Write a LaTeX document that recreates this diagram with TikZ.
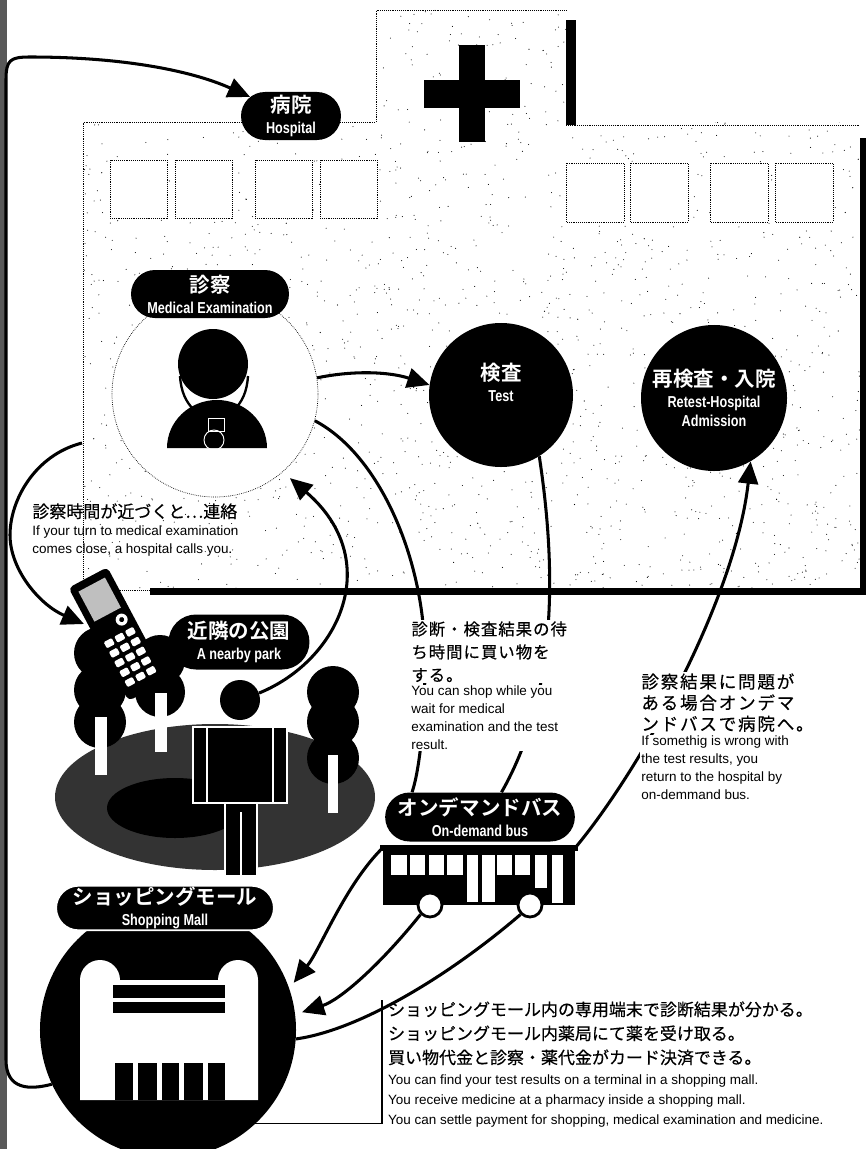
\documentclass[tikz,border=0pt]{standalone}
\usepackage{fontspec}
\setmainfont{Liberation Sans}
\newfontfamily\jp{Noto Sans CJK JP}[BoldFont={Noto Sans CJK JP Bold}]
\newfontfamily\cond{Liberation Sans}[FakeStretch=0.8]
\usetikzlibrary{positioning,shapes.misc,arrows.meta}

\newcommand{\jplabel}[1]{{\jp\bfseries\fontsize{17.5}{19}\selectfont #1}}
\newcommand{\enlabel}[1]{{\cond\bfseries\fontsize{13.5}{15}\selectfont #1}}

\tikzset{
  pill/.style={rounded rectangle, fill=black, text=white, align=center,
    inner xsep=3pt, inner ysep=1pt, font=\fontsize{13.5}{15}\selectfont},
  spot/.style={circle, fill=black, text=white, align=center, inner sep=0pt,
    font=\fontsize{13.5}{15}\selectfont},
  conn/.style={line width=2.6pt, -{Triangle[length=19pt,width=17pt]}},
  link/.style={line width=2.6pt},
  wall/.style={densely dotted, line width=0.6pt},
  jpnote/.style={anchor=north west, inner sep=1pt, align=left,
    font=\jp\fontsize{14.5}{20.5}\selectfont\addfontfeature{FakeBold=0.4}},
  ennote/.style={anchor=north west, inner sep=1pt, align=left,
    font=\fontsize{11.5}{15.4}\selectfont},
}

\begin{document}
\begin{tikzpicture}[x=0.03cm, y=-0.03cm]
\useasboundingbox (0,0) rectangle (866,1149);

% dark edge on the left
\fill[black!65] (0,0) rectangle (7,1149);

% screen tone of the hospital
\begin{scope}
\clip (83,122) rectangle (860,590) (376,10) rectangle (566,122);
\pgfmathsetseed{4}
\foreach \i in {1,...,2000}{
  \pgfmathsetmacro\sx{83+777*rnd}
  \pgfmathsetmacro\sy{10+580*rnd}
  \fill (\sx,\sy) circle (0.45pt);
}
\end{scope}

% hospital building
\draw[wall] (83,590) -- (83,122) -- (376,122) -- (376,10) -- (566,10);
\draw[wall] (566,125) -- (860,125);
\draw[wall] (83,590) -- (150,590);
\fill (566,20) rectangle (576,125);
\fill (860,138) rectangle (866,595);
\fill (150,588) rectangle (866,595);
\fill (459,45) rectangle (485,142);
\fill (424,80) rectangle (520,108);
\foreach \wx in {110,175,255,320}
  \draw[wall, fill=white] (\wx,160) rectangle +(57,58);
\foreach \wx in {566,630,710,775}
  \draw[wall, fill=white] (\wx,163) rectangle +(58,59);

\node[pill, minimum width=3.21cm, minimum height=1.44cm] (hospital) at (291,116)
  {\jplabel{病院}\\[3pt]\enlabel{Hospital}};

% examination room with the doctor
\node[circle, draw, wall, fill=white, minimum size=6.18cm] (exam) at (215,394) {};
\fill (213,364) circle (35);
\draw[line width=2pt] (180,376) .. controls (181,392) and (186,402) .. (194,410);
\draw[line width=2pt] (248,376) .. controls (247,392) and (242,402) .. (234,410);
\fill (167,448) arc[start angle=180, end angle=360, x radius=50, y radius=48] -- cycle;
\draw[white, line width=0.8pt] (208,418) rectangle (224,431);
\draw[white, line width=0.8pt] (214,440) circle (10);
\node[pill, minimum width=4.95cm, minimum height=1.44cm] (examlabel) at (210,294)
  {\jplabel{診察}\\[3pt]\enlabel{Medical Examination}};

\node[spot, minimum size=4.32cm] (test) at (501,395)
  {\jplabel{検査}\\[3pt]\enlabel{Test}\\[6pt]};
\node[spot, minimum size=4.38cm] (retest) at (714,398)
  {\jplabel{再検査・入院}\\[3pt]\enlabel{Retest-Hospital}\\[1pt]\enlabel{Admission}};

% park
\fill[black!80] (215,797) ellipse [x radius=160, y radius=73];
\fill (175,808) ellipse [x radius=68, y radius=30];
\foreach \ty in {653,690,722} \fill (100,\ty) circle (26);
\fill[white] (95,717) rectangle (107,775);
\foreach \ty in {660,692} \fill (160,\ty) circle (25);
\fill[white] (155,693) rectangle (167,752);
\foreach \ty in {692,722,758} \fill (333,\ty) circle (26);
\fill[white] (328,755) rectangle (338,813);
\node[pill, minimum width=4.44cm, minimum height=1.65cm] (park) at (239,642)
  {\jplabel{近隣の公園}\\[3pt]\enlabel{A nearby park}};
\node[circle, fill=black, minimum size=1.2cm, inner sep=0pt] (head) at (240,700) {};
\filldraw[draw=white, line width=1pt] (193,727) rectangle (287,803);
\draw[white, line width=1pt] (207,727) -- (207,803) (273,727) -- (273,803);
\filldraw[draw=white, line width=1pt] (225,803) rectangle (257,876);
\draw[white, line width=1pt] (241,812) -- (241,876);

% mobile phone
\begin{scope}[shift={(118,634)}, rotate=28]
\fill[rounded corners=4] (-22,-64) rectangle (22,64);
\fill[black!25] (-15,-56) rectangle (15,-22);
\fill[white] (10,-11) circle (6);
\fill (10,-11) circle (2.5);
\foreach \c in {-12,0,12}
  \foreach \r in {4,15,26,37,48}
    \fill[white, rounded corners=1] (\c-4.5,\r-3.5) rectangle +(9,7);
\end{scope}

% on-demand bus
\fill (380,845) rectangle (578,851);
\node[fill=black, minimum width=5.76cm, minimum height=1.71cm, inner sep=0pt] (bus) at (479,876.5) {};
\foreach \a/\b in {391/407,410/425,429/444,447/463,497/512,515/530}
  \fill[white] (\a,855) rectangle (\b,875);
\fill[white] (467,855) rectangle (478,902);
\fill[white] (482,855) rectangle (495,902);
\fill[white] (535,855) rectangle (547,888);
\fill[white] (552,855) rectangle (563,903);
\node[circle, draw, line width=2.4pt, fill=white, minimum size=0.72cm] (wheelL) at (430,905) {};
\node[circle, draw, line width=2.4pt, fill=white, minimum size=0.72cm] (wheelR) at (530,905) {};
\node[pill, inner xsep=-2pt, minimum width=5.55cm, minimum height=1.47cm] (buslabel) at (480,817)
  {\jplabel{オンデマンドバス}\\[3pt]\enlabel{On-demand bus}};

% shopping mall
\node[circle, fill=black, minimum size=7.68cm] (mall) at (168,1030) {};
\fill[white] (80,1100) -- (80,980) arc[start angle=180, end angle=360, radius=20]
  -- (218,980) arc[start angle=180, end angle=360, radius=20] -- (258,1100) -- cycle;
\fill (113,985) rectangle (225,998);
\fill (113,1002) rectangle (225,1013);
\fill (115,1063) rectangle (225,1100);
\foreach \gx in {133,157,179,203}
  \fill[white] (\gx,1063) rectangle +(5,37);
\node[pill, inner xsep=-5pt, draw=white, line width=1.5pt, minimum width=6.18cm, minimum height=1.29cm] (malllabel) at (165,908)
  {\jplabel{ショッピングモール}\\[3pt]\enlabel{Shopping Mall}};

% connectors
\draw[conn] (mall.205) .. controls (30,1090) and (6,1090) .. (6,1060) -- (6,80)
  .. controls (6,60) and (10,57) .. (30,57) .. controls (120,57) and (190,70) .. (hospital.155);
\coordinate (wallpt) at (82,443);
\coordinate (ring) at (84,624);
\draw[conn] (wallpt) .. controls (35,455) and (10,500) .. (10,535)
  .. controls (10,570) and (40,605) .. (ring);
\draw[conn] (exam.9) .. controls (355,370) and (390,372) .. (test.172);
\draw[link] (exam.-15) .. controls (380,455) and (425,560) .. (425,660)
  .. controls (425,730) and (418,775) .. (buslabel.160);
\draw[link] (test.-58) .. controls (555,560) and (560,690) .. (buslabel.49);
\draw[conn] (bus.north east) .. controls (640,770) and (735,600) .. (retest.-60);
\draw[conn, shorten >=8pt] (head.20) .. controls (340,660) and (385,560) .. (exam.-49);
\draw[conn, shorten >=6pt] (bus.north west) .. controls (345,885) and (320,950) .. (mall.19);
\draw[conn, shorten >=6pt] (wheelL.south west) .. controls (380,965) and (340,1000) .. (mall.7);
\draw[link] (wheelR.south west) .. controls (450,975) and (360,1030) .. (mall.-4);

% notes
\node[jpnote, font=\jp\fontsize{14.5}{18}\selectfont\addfontfeature{FakeBold=0.4}] (calljp) at (31,502)
  {診察時間が近づくと…連絡};
\node[ennote, below=3pt of calljp.south west, anchor=north west] (callen)
  {If your turn to medical examination\\comes close, a hospital calls you.};

\node[jpnote, fill=white, font=\jp\fontsize{14}{19.6}\selectfont\addfontfeature{LetterSpace=6,FakeBold=0.4}] (shopjp) at (410,620)
  {診断・検査結果の待\\ち時間に買い物を\\する。};
\node[ennote, fill=white, below=1pt of shopjp.south west, anchor=north west] (shopen)
  {You can shop while you\\wait for medical\\examination and the test\\result.};

\node[jpnote, fill=white, font=\jp\fontsize{15}{18}\selectfont\addfontfeature{LetterSpace=10,FakeBold=0.4}] (backjp) at (640,672)
  {診察結果に問題が\\ある場合オンデマ\\ンドバスで病院へ。};
\node[ennote, fill=white, below=1pt of backjp.south west, anchor=north west] (backen)
  {If somethig is wrong with\\the test results, you\\return to the hospital by\\on-demmand bus.};

\node[jpnote, inner xsep=5pt] (notejp) at (382,1000)
  {ショッピングモール内の専用端末で診断結果が分かる。\\ショッピングモール内薬局にて薬を受け取る。\\買い物代金と診察・薬代金がカード決済できる。};
\node[ennote, inner xsep=5pt, font=\fontsize{11.5}{17}\selectfont, below=6pt of notejp.south west, anchor=north west] (noteen)
  {You can find your test results on a terminal in a shopping mall.\\You receive medicine at a pharmacy inside a shopping mall.\\You can settle payment for shopping, medical examination and medicine.};
\draw[line width=0.9pt] (mall.-47) -| (notejp.north west);
\end{tikzpicture}
\end{document}
